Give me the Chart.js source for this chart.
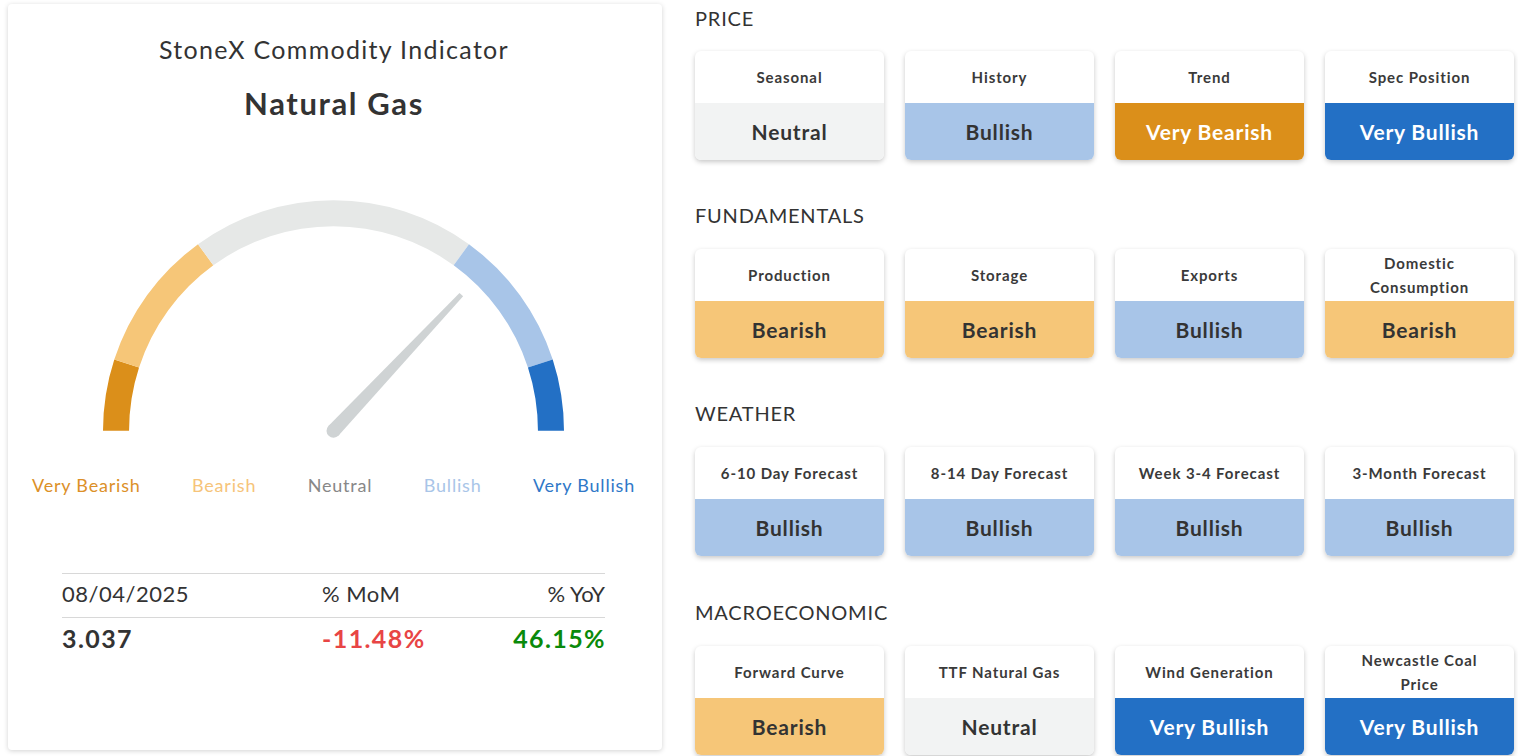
<!DOCTYPE html>
<html>
<head>
<meta charset="utf-8">
<title>StoneX Commodity Indicator</title>
<script src="https://cdn.jsdelivr.net/npm/chart.js@4.4.1/dist/chart.umd.min.js"></script>
<style>
  body { margin: 0; background: #fff; font-family: Lato, "Open Sans", sans-serif; color: #333; width: 1518px; height: 756px; overflow: hidden; position: relative; }
  .panel { position: absolute; left: 8px; top: 4px; width: 654px; height: 746px; background: #fff; border-radius: 4px; box-shadow: 0 1px 5px rgba(0,0,0,0.18); }
  .title { position: absolute; left: 0; width: 668px; text-align: center; }
  #t1 { top: 34px; font-size: 25px; letter-spacing: 1.3px; }
  #t2 { top: 84px; font-size: 31px; font-weight: 700; letter-spacing: 1.6px; }
  #gaugeBox { position: absolute; left: 103px; top: 200px; width: 461px; height: 245px; }
  #legendRow { position: absolute; left: 32px; width: 603px; top: 474px; display: flex; justify-content: space-between; font-size: 18px; letter-spacing: 0.8px; }
  .stats { position: absolute; left: 62px; width: 543px; }
  .hr { position: absolute; left: 62px; width: 543px; height: 1px; background: #d8d8d8; }
  .stats span { position: absolute; top: 0; white-space: nowrap; }
  .sec { position: absolute; left: 695px; font-size: 20px; letter-spacing: 0.8px; }
  .card { position: absolute; width: 189px; height: 109px; border-radius: 6px; overflow: hidden; box-shadow: 0 2px 5px rgba(0,0,0,0.22); background: #fff; }
  .card .lab { position: absolute; left: 0; top: 0; width: 100%; height: 52px; display: flex; align-items: center; justify-content: center; text-align: center; font-size: 15px; font-weight: 700; line-height: 24px; color: #3a3a3a; letter-spacing: 0.9px; }
  .card .val { position: absolute; left: 0; top: 52px; width: 100%; height: 57px; display: flex; align-items: center; justify-content: center; font-size: 21px; font-weight: 700; letter-spacing: 0.8px; }
</style>
</head>
<body>
<div class="panel"></div>
<div class="title" id="t1">StoneX Commodity Indicator</div>
<div class="title" id="t2">Natural Gas</div>
<div id="gaugeBox"><canvas id="gauge"></canvas></div>
<div id="legendRow"></div>
<div class="hr" style="top:573px"></div>
<div class="hr" style="top:617px"></div>
<div class="stats" id="row1" style="top:580px;font-size:22px;letter-spacing:0.5px"></div>
<div class="stats" id="row2" style="top:623px;font-size:25px;font-weight:700;letter-spacing:1.4px"></div>
<div id="right"></div>

<script>
// gauge: five zones, the needle points into Bullish
const gaugeLabels = ['Very Bearish', 'Bearish', 'Neutral', 'Bullish', 'Very Bullish'];
const gaugeSpans = [1, 2, 4, 2, 1];
const needleValue = 7.4;

// latest price stats
const statDate = '08/04/2025';
const statPrice = '3.037';
const statMoM = -11.48;
const statYoY = 46.15;

// indicator grid
const sectionNames = ['PRICE', 'FUNDAMENTALS', 'WEATHER', 'MACROECONOMIC'];
const priceFactors = ['Seasonal', 'History', 'Trend', 'Spec Position'];
const priceSignals = ['Neutral', 'Bullish', 'Very Bearish', 'Very Bullish'];
const fundFactors = ['Production', 'Storage', 'Exports', 'Domestic Consumption'];
const fundSignals = ['Bearish', 'Bearish', 'Bullish', 'Bearish'];
const weatherFactors = ['6-10 Day Forecast', '8-14 Day Forecast', 'Week 3-4 Forecast', '3-Month Forecast'];
const weatherSignals = ['Bullish', 'Bullish', 'Bullish', 'Bullish'];
const macroFactors = ['Forward Curve', 'TTF Natural Gas', 'Wind Generation', 'Newcastle Coal Price'];
const macroSignals = ['Bearish', 'Neutral', 'Very Bullish', 'Very Bullish'];

const signalColors = {
  'Very Bearish': '#db8f1a',
  'Bearish': '#f6c678',
  'Neutral': '#f2f3f3',
  'Bullish': '#a8c5e8',
  'Very Bullish': '#2370c5'
};
const ringColors = ['#db8f1a', '#f6c678', '#e6e8e7', '#a8c5e8', '#2370c5'];
const labelColors = ['#dc9028', '#f6c47a', '#888888', '#a9c5e8', '#2f78c8'];

/* needle drawn on top of the half doughnut */
const needlePlugin = {
  id: 'needle',
  afterDatasetsDraw(chart) {
    const arc = chart.getDatasetMeta(0).data[0];
    const total = gaugeSpans.reduce((a, b) => a + b, 0);
    const ang = Math.PI + (needleValue / total) * Math.PI;
    const len = arc.outerRadius * 0.81;
    const ctx = chart.ctx;
    ctx.save();
    ctx.translate(arc.x, arc.y);
    ctx.rotate(ang);
    ctx.fillStyle = '#cfd3d4';
    ctx.beginPath();
    ctx.moveTo(0, -7);
    ctx.lineTo(len, -2.5);
    ctx.lineTo(len, 2.5);
    ctx.lineTo(0, 7);
    ctx.closePath();
    ctx.fill();
    ctx.beginPath();
    ctx.arc(0, 0, 7, 0, Math.PI * 2);
    ctx.fill();
    ctx.restore();
  }
};

new Chart(document.getElementById('gauge'), {
  type: 'doughnut',
  data: {
    labels: gaugeLabels,
    datasets: [{
      data: gaugeSpans,
      backgroundColor: ringColors,
      borderWidth: 0
    }]
  },
  options: {
    responsive: true,
    maintainAspectRatio: false,
    animation: false,
    events: [],
    rotation: -90,
    circumference: 180,
    cutout: '88.7%',
    layout: { padding: { bottom: 14 } },
    plugins: { legend: { display: false }, tooltip: { enabled: false } }
  },
  plugins: [needlePlugin]
});

// labels under the gauge
let legendRow = document.getElementById('legendRow');
gaugeLabels.forEach((l, i) => {
  let s = document.createElement('span');
  s.textContent = l;
  s.style.color = labelColors[i];
  legendRow.appendChild(s);
});

function pct(v) { return v.toFixed(2) + '%'; }
document.getElementById('row1').innerHTML =
  '<span style="left:0">' + statDate + '</span>' +
  '<span style="left:260px">% MoM</span>' +
  '<span style="right:0;letter-spacing:0">% YoY</span>';
document.getElementById('row2').innerHTML =
  '<span style="left:0">' + statPrice + '</span>' +
  '<span style="left:260px;color:' + (statMoM < 0 ? '#e84545' : '#0a8a0a') + '">' + pct(statMoM) + '</span>' +
  '<span style="right:-1px;color:' + (statYoY < 0 ? '#e84545' : '#0a8a0a') + '">' + pct(statYoY) + '</span>';

// right hand grid
const groups = [
  [priceFactors, priceSignals],
  [fundFactors, fundSignals],
  [weatherFactors, weatherSignals],
  [macroFactors, macroSignals]
];
const secTops = [6, 203, 401, 600];
const cardTops = [51, 249, 447, 646];
let right = document.getElementById('right');
groups.forEach((g, si) => {
  let h = document.createElement('div');
  h.className = 'sec';
  h.style.top = secTops[si] + 'px';
  h.textContent = sectionNames[si];
  right.appendChild(h);
  g[0].forEach((name, ci) => {
    let sig = g[1][ci];
    let c = document.createElement('div');
    c.className = 'card';
    c.style.left = (695 + ci * 210) + 'px';
    c.style.top = cardTops[si] + 'px';
    let lab = document.createElement('div');
    lab.className = 'lab';
    if (name.length > 18) lab.style.padding = '0 32px', lab.style.boxSizing = 'border-box';
    lab.textContent = name;
    let val = document.createElement('div');
    val.className = 'val';
    val.textContent = sig;
    val.style.background = signalColors[sig];
    val.style.color = sig.indexOf('Very') === 0 ? '#fff' : '#333';
    c.appendChild(lab);
    c.appendChild(val);
    right.appendChild(c);
  });
});
</script>
</body>
</html>
